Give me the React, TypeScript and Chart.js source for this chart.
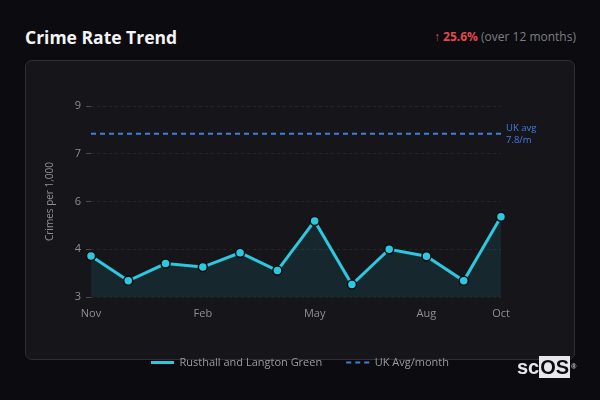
import React, { useEffect, useRef } from "react";
import { Chart, registerables } from "chart.js";

Chart.register(...registerables);

const months = ["Nov", "Dec", "Jan", "Feb", "Mar", "Apr", "May", "Jun", "Jul", "Aug", "Sep", "Oct"];
const localRate = [4.29, 3.51, 4.05, 3.94, 4.39, 3.83, 5.39, 3.39, 4.5, 4.28, 3.51, 5.52];
const ukAvgValue = 8.13;
const ukAvgSeries = months.map(() => ukAvgValue);
const yTickValues = [3, 4.5, 6, 7.5, 9];
const yTickLabels = ["3", "4", "6", "7", "9"];
const ukAvgNote = ["UK avg", "7.8/m"];
const seriesNames = ["Rusthall and Langton Green", "UK Avg/month"];

const FONT = "'Open Sans', 'Noto Sans', sans-serif";
const CYAN = "#2cc8e0";
const BLUE = "#3f7fe0";

const avgNotePlugin = {
  id: "avgNote",
  afterDatasetsDraw(chart: any) {
    const { ctx, chartArea, scales } = chart;
    const y = scales.y.getPixelForValue(ukAvgValue);
    ctx.save();
    ctx.fillStyle = BLUE;
    ctx.font = `9.5px ${FONT}`;
    ctx.textAlign = "left";
    ctx.textBaseline = "middle";
    ctx.fillText(ukAvgNote[0], chartArea.right + 5, y - 5);
    ctx.fillText(ukAvgNote[1], chartArea.right + 5, y + 7);
    ctx.restore();
  },
};

export default function App() {
  const ref = useRef<HTMLCanvasElement | null>(null);

  useEffect(() => {
    if (!ref.current) return;
    const chart = new Chart(ref.current, {
      type: "line",
      data: {
        labels: months,
        datasets: [
          {
            label: seriesNames[0],
            data: localRate,
            borderColor: CYAN,
            backgroundColor: "rgba(44,200,224,0.10)",
            borderWidth: 3,
            fill: "start",
            tension: 0,
            pointRadius: 4.5,
            pointBackgroundColor: CYAN,
            pointBorderColor: "#0d0d11",
            pointBorderWidth: 1.5,
          },
          {
            label: seriesNames[1],
            data: ukAvgSeries,
            borderColor: BLUE,
            borderWidth: 2,
            borderDash: [5, 4],
            pointRadius: 0,
            fill: false,
          },
        ],
      },
      options: {
        animation: false,
        responsive: false,
        maintainAspectRatio: false,
        layout: { padding: { left: 0, right: 0, top: 46, bottom: 2 } },
        plugins: {
          title: { display: false },
          tooltip: { enabled: false },
          legend: {
            display: true,
            position: "bottom",
            labels: {
              color: "#9a9aa0",
              font: { family: FONT, size: 11 },
              usePointStyle: true,
              pointStyleWidth: 23,
              boxWidth: 23,
              boxHeight: 8,
              padding: 24,
              generateLabels: (c: any) =>
                c.data.datasets.map((ds: any, i: number) => ({
                  text: ds.label,
                  fillStyle: ds.borderColor,
                  strokeStyle: ds.borderColor,
                  lineWidth: i === 0 ? 3 : 2,
                  lineDash: i === 0 ? [] : [5, 4],
                  pointStyle: "line",
                  fontColor: "#9a9aa0",
                  datasetIndex: i,
                  hidden: false,
                })),
            },
          },
        },
        scales: {
          x: {
            offset: false,
            grid: { display: false, drawTicks: false },
            border: { display: false },
            ticks: {
              autoSkip: false,
              maxRotation: 0,
              padding: 10,
              color: "#8e8e94",
              font: { family: FONT, size: 11 },
              callback: (_v: any, i: number) =>
                i % 3 === 0 || i === months.length - 1 ? months[i] : "",
            },
            afterFit: (s: any) => {
              s.height = 36;
            },
          },
          y: {
            min: 3,
            max: 9,
            afterBuildTicks: (s: any) => {
              s.ticks = yTickValues.map((v) => ({ value: v }));
            },
            grid: {
              color: "rgba(255,255,255,0.07)",
              borderDash: [3, 3],
              tickColor: "#4a4a50",
              tickLength: 5,
              tickBorderDash: [],
            },
            border: { display: false, dash: [3, 3] },
            ticks: {
              padding: 5,
              color: "#8e8e94",
              font: { family: FONT, size: 11 },
              callback: (_v: any, i: number) => yTickLabels[i],
            },
            title: {
              display: true,
              text: "Crimes per 1,000",
              color: "#8e8e94",
              font: { family: FONT, size: 10 },
              padding: { top: 19, bottom: 0 },
            },
            afterFit: (s: any) => {
              s.width = 66;
            },
          },
          yRight: {
            type: "linear",
            position: "right",
            display: true,
            grid: { display: false, drawTicks: false },
            border: { display: false },
            ticks: { display: false },
            afterFit: (s: any) => {
              s.width = 74;
            },
          },
        },
      },
      plugins: [avgNotePlugin],
    });
    return () => chart.destroy();
  }, []);

  return (
    <div
      style={{
        position: "absolute",
        left: 0,
        top: 0,
        width: 600,
        height: 400,
        background: "#0c0c10",
        fontFamily: FONT,
        overflow: "hidden",
      }}
    >
      <div
        style={{
          position: "absolute",
          left: 25,
          top: 24,
          fontSize: 17.5,
          lineHeight: "26px",
          fontWeight: 700,
          color: "#f4f4f6",
        }}
      >
        Crime Rate Trend
      </div>
      <div
        style={{
          position: "absolute",
          right: 24,
          top: 28,
          fontSize: 12,
          lineHeight: "18px",
          color: "#7d7d84",
          whiteSpace: "nowrap",
        }}
      >
        <span style={{ color: "#e5484d" }}>↑ </span>
        <span style={{ color: "#e5484d", fontWeight: 700 }}>25.6%</span>
        <span> (over 12 months)</span>
      </div>
      <div
        style={{
          position: "absolute",
          left: 25,
          top: 60,
          width: 550,
          height: 300,
          boxSizing: "border-box",
          border: "1px solid #2f2f35",
          borderRadius: 7,
          background: "#16161a",
        }}
      />
      <canvas
        ref={ref}
        width={550}
        height={320}
        style={{ position: "absolute", left: 25, top: 60, width: 550, height: 320 }}
      />
      <div
        style={{
          position: "absolute",
          left: 517,
          top: 356,
          height: 22,
          display: "flex",
          alignItems: "center",
          fontFamily: "'Liberation Sans', Arial, sans-serif",
          fontWeight: 700,
          fontSize: 20,
          lineHeight: "22px",
        }}
      >
        <span style={{ color: "#e8e8ea" }}>sc</span>
        <span style={{ background: "#e8e8ea", color: "#0c0c10", padding: "0 1px" }}>OS</span>
        <span style={{ color: "#cfcfd2", fontSize: 7, alignSelf: "flex-start", marginLeft: 1 }}>®</span>
      </div>
    </div>
  );
}
